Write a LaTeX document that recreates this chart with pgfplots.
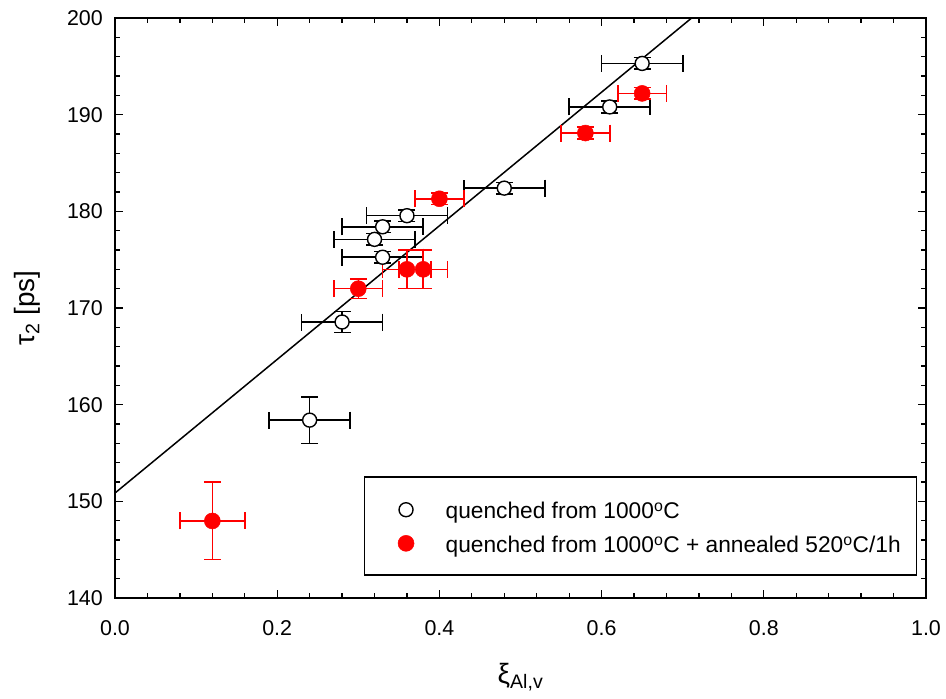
\documentclass[border=0pt]{standalone}
\usepackage{fontspec}
\setmainfont{Liberation Sans}
\usepackage{pgfplots}
\usepackage{pgfplotstable}
\pgfplotsset{compat=1.18}

\pgfplotstableread{
x y ex ey
0.65 195.3 0.05 0.6
0.61 190.8 0.05 0.6
0.48 182.4 0.05 0.6
0.36 179.55 0.05 0.6
0.33 178.4 0.05 0.6
0.32 177.1 0.05 0.6
0.33 175.25 0.05 0.6
0.28 168.55 0.05 1.07
0.24 158.4 0.05 2.4
}\quenched

\pgfplotstableread{
x y ex ey
0.65 192.2 0.03 0.6
0.58 188.1 0.03 0.6
0.40 181.3 0.03 0.6
0.36 174.0 0.03 2.0
0.38 174.0 0.03 2.0
0.30 172.0 0.03 1.0
0.12 147.97 0.04 4.0
}\annealed

\begin{document}
\begin{tikzpicture}
\path[use as bounding box] (-115bp,-101bp) rectangle (831bp,598bp);
\begin{axis}[
  scale only axis, width=811bp, height=580bp,
  at={(0,0)}, anchor=south west,
  xmin=0, xmax=1, ymin=140, ymax=200,
  xtick={0,0.2,0.4,0.6,0.8,1}, ytick={140,150,160,170,180,190,200},
  minor x tick num=4, minor y tick num=4,
  tick align=inside,
  major tick length=8bp, minor tick length=5bp,
  every tick/.style={black, line width=1.3bp},
  axis line style={line width=1.3bp},
  /pgf/number format/assume math mode=true,
  xticklabel style={font=\fontsize{21.5}{25}\selectfont, anchor=north, inner sep=0pt, yshift=-22bp,
     /pgf/number format/.cd, fixed, fixed zerofill, precision=1},
  yticklabel style={font=\fontsize{21.5}{25}\selectfont, anchor=east, inner sep=0pt, xshift=-12bp,
     /pgf/number format/.cd, fixed, precision=0},
  xlabel={ξ\textsubscript{Al,v}},
  ylabel={τ\textsubscript{2} [ps]},
  xlabel style={font=\fontsize{28}{32}\selectfont, at={(axis description cs:0.5,-0.1466)}, anchor=base},
  ylabel style={font=\fontsize{28}{32}\selectfont, at={(axis description cs:-0.1085,0.5)}, anchor=center},
  legend cell align=left,
  legend image code/.code={\path (-25bp,0bp) (8bp,0bp); \draw[#1] plot coordinates {(0bp,-0.5bp)};},
  legend style={at={(0.3067,0.2097)}, anchor=north west, draw=black, line width=1.3bp,
     font=\fontsize{22.8}{27}\selectfont, inner xsep=16bp, inner ysep=17.5bp, row sep=4.2bp,
     column sep=31bp,
     nodes={inner sep=0pt, text height=24.4bp, text depth=5bp}},
]
\addplot[black, line width=1.5bp, forget plot] coordinates {(0,150.86) (0.711,200)};

\addplot[black, only marks, mark=*, mark size=7bp,
  mark options={fill=white, draw=black, line width=1.4bp},
  error bars/.cd, x dir=both, x explicit, y dir=both, y explicit,
  error bar style={line width=1.6bp, black},
  error mark options={rotate=90, mark size=8.5bp, line width=1.6bp, black}]
  table[x=x, y=y, x error=ex, y error=ey] {\quenched};
\addlegendentry{quenched from 1000\textsuperscript{o}C}

\addplot[red, only marks, mark=*, mark size=8bp,
  mark options={fill=red, draw=red, line width=0.5bp},
  error bars/.cd, x dir=both, x explicit, y dir=both, y explicit,
  error bar style={line width=1.6bp, red},
  error mark options={rotate=90, mark size=8.5bp, line width=1.6bp, red}]
  table[x=x, y=y, x error=ex, y error=ey] {\annealed};
\addlegendentry{quenched from 1000\textsuperscript{o}C + annealed 520\textsuperscript{o}C/1h}
\end{axis}
\end{tikzpicture}
\end{document}
